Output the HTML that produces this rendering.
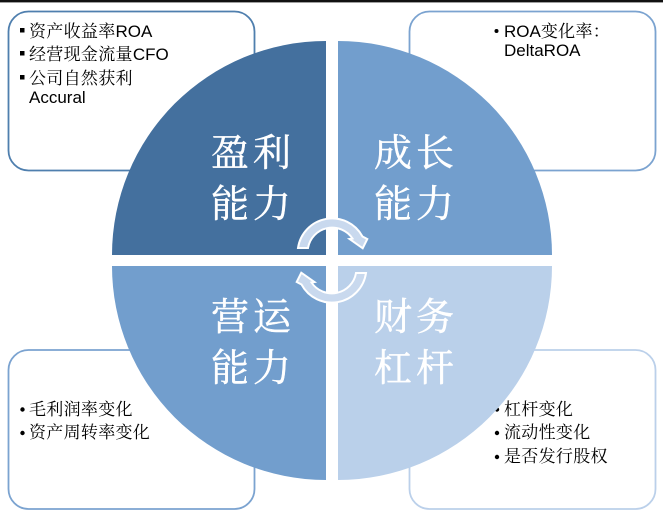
<!DOCTYPE html>
<html><head><meta charset="utf-8">
<style>
html,body{margin:0;padding:0;background:#fff;width:663px;height:510px;overflow:hidden}
svg{display:block}
.s{font-family:"Liberation Sans","Noto Serif CJK SC","Noto Serif CJK JP","Noto Serif CJK TC",serif;font-size:17px;fill:#000}
.s tspan{letter-spacing:.3px}
.b{font-family:"Noto Serif CJK SC","Noto Serif CJK JP","Noto Serif CJK TC","Liberation Serif",serif;font-size:38px;fill:#fff;stroke:#fff;stroke-width:.45px;letter-spacing:4px}
</style></head><body>
<svg width="663" height="510" viewBox="0 0 663 510" xmlns="http://www.w3.org/2000/svg">
<rect x="0" y="0" width="663" height="2.4" fill="#111"/>
<rect x="8.5" y="11.5" width="246" height="159" rx="20" fill="#fff" stroke="#4f7fae" stroke-width="1.8"/>
<rect x="409.5" y="11.5" width="246" height="159" rx="20" fill="#fff" stroke="#7ba3d0" stroke-width="1.8"/>
<rect x="8.5" y="350" width="246" height="159" rx="20" fill="#fff" stroke="#7ba3d0" stroke-width="1.8"/>
<rect x="409.5" y="350" width="246" height="159" rx="20" fill="#fff" stroke="#bbd0ea" stroke-width="1.8"/>

<rect x="20" y="28" width="4.5" height="4.5" fill="#000"/>
<rect x="20" y="51" width="4.5" height="4.5" fill="#000"/>
<rect x="20" y="75" width="4.5" height="4.5" fill="#000"/>
<text class="s" x="29" y="37"><tspan>资产收益率</tspan>ROA</text>
<text class="s" x="29" y="60"><tspan>经营现金流量</tspan>CFO</text>
<text class="s" x="29" y="84"><tspan>公司自然获利</tspan></text>
<text class="s" x="29" y="103">Accural</text>

<circle cx="496.5" cy="31" r="2" fill="#000"/>
<text class="s" x="504" y="37">ROA<tspan>变化率：</tspan></text>
<text class="s" x="504" y="56">DeltaROA</text>

<circle cx="22.5" cy="409.5" r="2.2" fill="#000"/>
<circle cx="22.5" cy="433" r="2.2" fill="#000"/>
<text class="s" x="29" y="415"><tspan>毛利润率变化</tspan></text>
<text class="s" x="29" y="438"><tspan>资产周转率变化</tspan></text>

<circle cx="497" cy="409.5" r="2.2" fill="#000"/>
<circle cx="497" cy="433" r="2.2" fill="#000"/>
<circle cx="497" cy="457" r="2.2" fill="#000"/>
<text class="s" x="504" y="415"><tspan>杠杆变化</tspan></text>
<text class="s" x="504" y="438"><tspan>流动性变化</tspan></text>
<text class="s" x="504" y="462"><tspan>是否发行股权</tspan></text>

<path d="M326,41 A214,214 0 0 0 112,255 L326,255 Z" fill="#44709e"/>
<path d="M338,41 A214,214 0 0 1 552,255 L338,255 Z" fill="#729ecd"/>
<path d="M326,480 A214,214 0 0 1 112,266 L326,266 Z" fill="#729ecd"/>
<path d="M338,480 A214,214 0 0 0 552,266 L338,266 Z" fill="#bad0ea"/>

<text class="b" x="211" y="166">盈利</text>
<text class="b" x="211" y="217">能力</text>
<text class="b" x="374" y="166">成长</text>
<text class="b" x="374" y="217">能力</text>
<text class="b" x="211" y="330">营运</text>
<text class="b" x="211" y="381">能力</text>
<text class="b" x="374" y="330">财务</text>
<text class="b" x="374" y="381">杠杆</text>

<path d="M298,248 A34.5,34.5 0 0 1 362.5,236.5 L367.3,239 L362.7,248.3 L349.5,239 L352.5,238.5 A24.5,24.5 0 0 0 308,248 Z" fill="#c9d9ee" stroke="#fff" stroke-width="2"/>
<path d="M298,248 A34.5,34.5 0 0 1 362.5,236.5 L367.3,239 L362.7,248.3 L349.5,239 L352.5,238.5 A24.5,24.5 0 0 0 308,248 Z" transform="rotate(180 332 260.5)" fill="#c9d9ee" stroke="#fff" stroke-width="2"/>
</svg>
</body></html>
